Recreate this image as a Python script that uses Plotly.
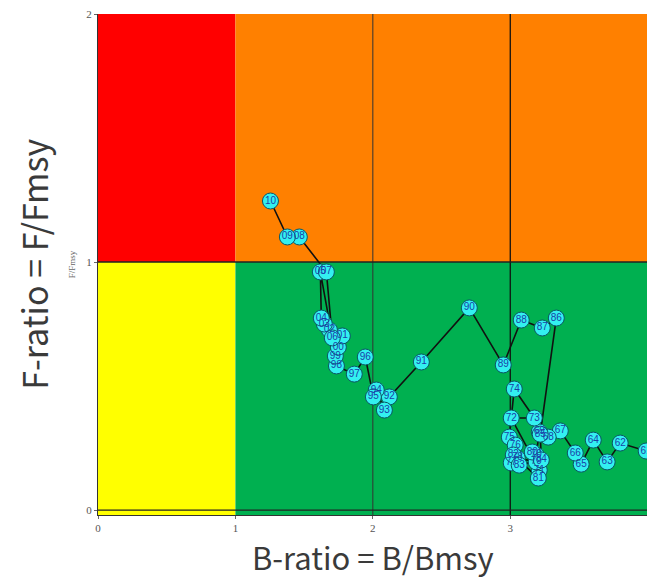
import plotly.graph_objects as go

years = ["61","62","63","64","65","66","67","68","69","70",
         "71","72","73","74","75","76","77","78","79","80",
         "81","82","83","84","85","86","87","88","89","90",
         "91","92","93","94","95","96","97","98","99","00",
         "01","02","03","04","05","06","07","08","09","10"]
b_ratio = [3.989,3.800,3.705,3.604,3.516,3.473,3.364,3.276,3.211,3.189,
           3.211,3.007,3.175,3.029,2.993,3.036,3.007,3.051,3.189,3.160,
           3.204,3.022,3.065,3.226,3.218,3.335,3.233,3.080,2.949,2.702,
           2.353,2.120,2.084,2.025,2.004,1.945,1.865,1.735,1.727,1.749,
           1.778,1.684,1.647,1.625,1.618,1.705,1.662,1.465,1.378,1.255]
f_ratio = [0.238,0.270,0.194,0.282,0.185,0.230,0.319,0.294,0.315,0.222,
           0.161,0.371,0.371,0.488,0.294,0.262,0.190,0.210,0.194,0.234,
           0.129,0.222,0.181,0.202,0.306,0.774,0.734,0.766,0.585,0.815,
           0.597,0.456,0.403,0.484,0.456,0.617,0.548,0.581,0.621,0.657,
           0.702,0.726,0.750,0.774,0.960,0.694,0.960,1.101,1.101,1.246]

x_ticks = [0, 1, 2, 3, 4]
y_ticks = [0, 1, 2]

fig = go.Figure()

# background zones
zones = [
    (0, 1, 1, 2, "#FF0000"),
    (1, 4.2, 1, 2, "#FF8000"),
    (0, 1, -0.03, 1, "#FFFF00"),
    (1, 4.2, -0.03, 1, "#00B050"),
]
for x0, x1, y0, y1, c in zones:
    fig.add_shape(type="rect", x0=x0, x1=x1, y0=y0, y1=y1, fillcolor=c,
                  line=dict(width=0), layer="below")

fig.add_shape(type="line", x0=2, x1=2, y0=-0.03, y1=2, line=dict(color="#333333", width=1), layer="below")
fig.add_shape(type="line", x0=3, x1=3, y0=-0.03, y1=2, line=dict(color="#111111", width=1.3), layer="below")
fig.add_shape(type="line", x0=0, x1=4.2, y0=1, y1=1, line=dict(color="#222222", width=1.3), layer="below")
fig.add_shape(type="line", x0=0, x1=4.2, y0=0, y1=0, line=dict(color="#222222", width=1.3), layer="below")

fig.add_trace(go.Scatter(
    x=b_ratio, y=f_ratio, text=years,
    mode="lines+markers+text",
    line=dict(color="#111111", width=1.6),
    marker=dict(size=16, color="#33F0F0", line=dict(color="#0B5566", width=1)),
    textposition="middle center",
    textfont=dict(family="Liberation Sans Narrow, Liberation Sans", size=10, color="#1B3FA8"),
    cliponaxis=True,
    hoverinfo="skip",
))

fig.update_layout(
    width=647, height=579,
    margin=dict(l=98, r=0, t=14, b=64),
    paper_bgcolor="white", plot_bgcolor="white",
    showlegend=False,
    xaxis=dict(range=[0, 3.995], tickvals=x_ticks, showgrid=False, zeroline=False,
               showline=True, linecolor="#333333", linewidth=1.3, ticks="outside", ticklen=3,
               tickcolor="#666666",
               tickfont=dict(family="Liberation Serif", size=11, color="#555555")),
    yaxis=dict(range=[-0.02, 2], tickvals=y_ticks, showgrid=False, zeroline=False,
               showline=True, linecolor="#333333", linewidth=1.3, ticks="outside", ticklen=3,
               tickcolor="#666666",
               tickfont=dict(family="Liberation Serif", size=11, color="#555555")),
    annotations=[
        dict(text="B-ratio = B/Bmsy", xref="paper", yref="paper", x=0.5, y=-0.082,
             xanchor="center", yanchor="middle", showarrow=False,
             font=dict(family="Noto Sans CJK JP", size=31, color="#3a3a3a")),
        dict(text="F-ratio = F/Fmsy", xref="paper", yref="paper", x=-0.118, y=0.5,
             xanchor="center", yanchor="middle", showarrow=False, textangle=-90,
             font=dict(family="Noto Sans CJK JP", size=34, color="#3a3a3a")),
        dict(text="F/Fmsy", xref="paper", yref="paper", x=-0.048, y=0.5,
             xanchor="center", yanchor="middle", showarrow=False, textangle=-90,
             font=dict(family="Liberation Serif", size=9, color="#666666")),
    ],
)

fig.write_html("out.html")
